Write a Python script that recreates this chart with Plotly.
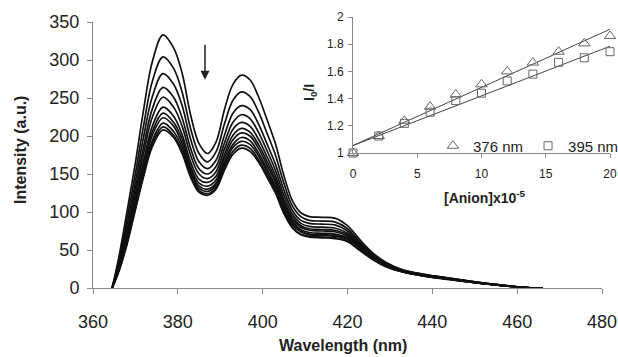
import plotly.graph_objects as go

# ---------------- data ----------------
wavelength = [364.5, 366, 368, 370, 372, 374, 376.5, 379, 381, 383, 385, 387, 389, 391, 393, 395,
              397, 399, 401, 403, 405, 407, 409, 411, 414, 417, 420, 423, 426, 429, 433, 438, 444,
              450, 456, 461, 466]

spec_0 = [0, 38, 100, 165, 237, 298, 333, 316, 283, 228, 190, 177, 192, 235, 268, 280, 274, 252, 222, 190, 148, 115, 99, 94, 93, 92, 82, 63, 46, 34, 24, 18, 13, 8, 4, 1, 0]
spec_1 = [0, 34, 90, 151, 216, 272, 304, 289, 258, 210, 177, 166, 179, 216, 247, 258, 252, 232, 204, 175, 138, 108, 94, 89, 88, 87, 78, 60, 45, 33, 24, 18, 13, 8, 4, 1, 0]
spec_2 = [0, 31, 82, 140, 201, 252, 282, 268, 240, 196, 166, 157, 168, 201, 230, 240, 235, 216, 190, 163, 129, 102, 89, 85, 84, 83, 75, 58, 43, 33, 23, 17.5, 12.5, 8, 4, 1, 0]
spec_3 = [0, 29, 76, 131, 188, 236, 264, 251, 224, 184, 157, 150, 160, 191, 218, 228, 223, 205, 181, 155, 122, 97, 85, 81, 80, 79, 72, 56, 42, 32, 23, 17, 12.5, 7.5, 4, 1, 0]
spec_4 = [0, 27, 72, 124, 179, 225, 251, 238, 213, 175, 150, 144, 153, 183, 209, 218, 213, 196, 173, 148, 116, 93, 82, 78, 77, 76, 70, 55, 41, 31, 22, 17, 12, 7.5, 3.5, 1, 0]
spec_5 = [0, 25, 68, 118, 169, 213, 238, 226, 202, 166, 143, 139, 147, 176, 201, 210, 205, 189, 167, 143, 112, 90, 80, 76, 75, 74, 68, 54, 40, 31, 22, 16.5, 12, 7.5, 3.5, 1, 0]
spec_6 = [0, 24, 65, 114, 164, 206, 230, 218, 196, 160, 138, 134, 142, 171, 195, 204, 200, 184, 162, 139, 109, 87, 77, 73, 72, 71, 66, 53, 39, 30, 22, 16.5, 12, 7, 3.5, 1, 0]
spec_7 = [0, 23, 63, 111, 160, 201, 224, 213, 190, 156, 134, 130, 138, 166, 189, 198, 194, 178, 157, 134, 106, 85, 75, 71, 70, 69, 65, 52, 39, 30, 21.5, 16, 11.5, 7, 3.5, 1, 0]
spec_8 = [0, 22, 61, 108, 155, 194, 217, 206, 185, 152, 131, 127, 135, 162, 185, 193, 189, 174, 153, 131, 103, 83, 74, 70, 69, 68, 64, 51, 38, 29, 21.5, 16, 11.5, 7, 3.5, 1, 0]
spec_9 = [0, 21, 59, 105, 151, 190, 212, 201, 180, 148, 128, 124, 132, 158, 180, 188, 184, 169, 149, 128, 100, 80, 71, 68, 67, 66, 62, 50, 38, 29, 21, 16, 11.5, 7, 3.5, 1, 0]
spec_10 = [0, 20, 57, 103, 148, 186, 208, 198, 177, 146, 126, 122, 130, 155, 176, 184, 180, 166, 146, 125, 98, 79, 70, 67, 66, 65, 61, 49, 37, 28, 21, 15.5, 11, 7, 3.5, 1, 0]
spectra = [spec_0, spec_1, spec_2, spec_3, spec_4, spec_5, spec_6, spec_7, spec_8, spec_9, spec_10]

anion = [0, 2, 4, 6, 8, 10, 12, 14, 16, 18, 20]
ratio_376 = [1.0, 1.125, 1.237, 1.34, 1.43, 1.505, 1.60, 1.665, 1.745, 1.806, 1.86]
ratio_395 = [1.0, 1.125, 1.218, 1.30, 1.385, 1.44, 1.53, 1.58, 1.667, 1.70, 1.745]
fit_x = [0, 20]
fit_376 = [1.055, 1.91]
fit_395 = [1.055, 1.785]

main_xticks = [360, 380, 400, 420, 440, 460, 480]
main_yticks = [0, 50, 100, 150, 200, 250, 300, 350]
inset_xticks = [0, 5, 10, 15, 20]
inset_yticks = [1, 1.2, 1.4, 1.6, 1.8, 2]

# ---------------- figure ----------------
FONT = "Arial, Liberation Sans, sans-serif"
W, H = 618, 357
ML, MR, MT, MB = 93, 6, 10, 69
PW = W - ML - MR
PH = H - MT - MB

def px_x(p):
    return (p - ML) / PW

def px_y(p):
    return (H - MB - p) / PH

fig = go.Figure()

for s in spectra:
    fig.add_trace(go.Scatter(x=wavelength, y=s, mode="lines",
                             line=dict(color="#111111", width=1.7, shape="spline", smoothing=1.0),
                             showlegend=False, hoverinfo="skip", xaxis="x", yaxis="y"))

fig.add_trace(go.Scatter(x=fit_x, y=fit_376, mode="lines", line=dict(color="#444444", width=1),
                         showlegend=False, xaxis="x2", yaxis="y2"))
fig.add_trace(go.Scatter(x=fit_x, y=fit_395, mode="lines", line=dict(color="#444444", width=1),
                         showlegend=False, xaxis="x2", yaxis="y2"))
fig.add_trace(go.Scatter(x=anion, y=ratio_376, mode="markers", name="376 nm",
                         marker=dict(symbol="triangle-up-open", size=10, color="#666666",
                                     line=dict(width=1, color="#666666")),
                         cliponaxis=False, xaxis="x2", yaxis="y2"))
fig.add_trace(go.Scatter(x=anion, y=ratio_395, mode="markers", name="395 nm",
                         marker=dict(symbol="square-open", size=8, color="#666666",
                                     line=dict(width=1, color="#666666")),
                         cliponaxis=False, xaxis="x2", yaxis="y2"))

axis_common = dict(showline=True, linecolor="#888888", linewidth=1, ticks="outside",
                   tickcolor="#888888", showgrid=False, zeroline=False, automargin=False)

fig.update_layout(
    width=W, height=H,
    margin=dict(l=ML, r=MR, t=MT, b=MB, autoexpand=False),
    paper_bgcolor="white", plot_bgcolor="rgba(0,0,0,0)",
    font=dict(family=FONT, color="#222222"),
    xaxis=dict(domain=[0, px_x(602)], range=[360, 480], tickvals=main_xticks,
               ticklen=5, tickfont=dict(size=18, color="#222222"), ticklabelstandoff=12,
               anchor="y", **axis_common),
    yaxis=dict(domain=[0, px_y(22)], range=[0, 350], tickvals=main_yticks,
               ticklen=5, tickfont=dict(size=18, color="#222222"), ticklabelstandoff=4,
               anchor="x", **axis_common),
    xaxis2=dict(domain=[px_x(353), px_x(610)], range=[0, 20], tickvals=inset_xticks,
                ticklen=4, tickfont=dict(size=12, color="#222222"), ticklabelstandoff=6,
                anchor="y2", **axis_common),
    yaxis2=dict(domain=[px_y(153), px_y(17)], range=[1, 2], tickvals=inset_yticks,
                ticktext=["1", "1.2", "1.4", "1.6", "1.8", "2"],
                ticklen=4, tickfont=dict(size=12, color="#222222"), ticklabelstandoff=2,
                anchor="x2", **axis_common),
    legend=dict(orientation="h", x=px_x(433), y=px_y(146), xanchor="left", yanchor="middle",
                bgcolor="rgba(0,0,0,0)", font=dict(size=15, color="#222222"),
                itemwidth=30, tracegroupgap=0),
    showlegend=True,
)

annotations = [
    dict(text="<b>Intensity (a.u.)</b>", x=px_x(20), y=px_y(150), xref="paper", yref="paper",
         xanchor="center", yanchor="middle",
         textangle=-90, showarrow=False, font=dict(size=16, color="#222222")),
    dict(text="<b>Wavelength (nm)</b>", x=px_x(343), y=px_y(345), xref="paper", yref="paper",
         xanchor="center", yanchor="middle",
         showarrow=False, font=dict(size=16, color="#222222")),
    dict(text="<b>I<sub>0</sub>/I</b>", x=px_x(310), y=px_y(93), xref="paper", yref="paper",
         xanchor="center", yanchor="middle",
         textangle=-90, showarrow=False, font=dict(size=14, color="#222222")),
    dict(text="<b>[Anion]x10<sup>-5</sup></b>", x=px_x(485), y=px_y(197), xref="paper", yref="paper",
         xanchor="center", yanchor="middle",
         showarrow=False, font=dict(size=14, color="#222222")),
    dict(text="", x=386.4, y=274, ax=386.4, ay=322, xref="x", yref="y", axref="x", ayref="y",
         showarrow=True, arrowhead=2, arrowsize=1.2, arrowwidth=1.5, arrowcolor="#222222"),
]
fig.update_layout(annotations=annotations)

fig.write_html("out.html", config={"displayModeBar": False},
               post_script="document.body.style.margin='0';document.body.style.overflow='hidden';")
